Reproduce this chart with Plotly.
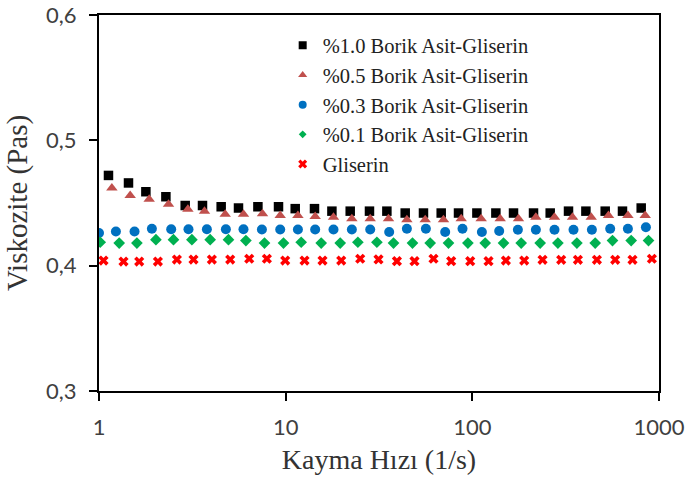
import plotly.graph_objects as go

# ---- data ----
names = ["%1.0 Borik Asit-Gliserin", "%0.5 Borik Asit-Gliserin",
         "%0.3 Borik Asit-Gliserin", "%0.1 Borik Asit-Gliserin", "Gliserin"]

x_b10 = [1.124, 1.439, 1.783, 2.282, 2.896, 3.585, 4.513, 5.589, 7.101, 9.155,
         11.25, 14.27, 17.69, 22.17, 28.12, 34.85, 43.69, 54.74, 68.11, 84.32,
         105.8, 133.7, 166.2, 212.7, 261.3, 327.5, 405.9, 515.0, 637.4, 802.9]
y_b10 = [0.472, 0.466, 0.459, 0.455, 0.448, 0.448, 0.447, 0.446, 0.447, 0.447,
         0.4455, 0.4455, 0.4435, 0.4435, 0.4435, 0.4435, 0.442, 0.442, 0.442, 0.442,
         0.442, 0.442, 0.442, 0.442, 0.442, 0.4435, 0.4435, 0.4435, 0.4435, 0.446]

x_b05 = [1.172, 1.469, 1.857, 2.357, 2.994, 3.674, 4.744, 5.944, 7.514, 9.348,
         11.63, 14.39, 18.04, 22.63, 28.37, 35.55, 44.61, 55.91, 70.06, 87.17,
         111.5, 141.0, 176.7, 219.0, 275.5, 344.1, 433.3, 536.3, 681.4, 843.6]
y_b05 = [0.462, 0.456, 0.453, 0.449, 0.445, 0.4435, 0.441, 0.441, 0.4414, 0.440,
         0.440, 0.4393, 0.4387, 0.4375, 0.4375, 0.4375, 0.4367, 0.4367, 0.4367, 0.4374,
         0.4374, 0.4374, 0.4374, 0.4387, 0.4387, 0.4387, 0.4387, 0.440, 0.440, 0.440]

x_b03 = [1.0, 1.232, 1.550, 1.920, 2.437, 3.016, 3.784, 4.784, 5.944, 7.459,
         9.348, 11.63, 14.39, 18.04, 22.63, 28.37, 35.86, 44.61, 56.39, 71.54,
         88.59, 112.5, 139.3, 175.4, 219.0, 275.5, 348.3, 437.0, 547.7, 681.4, 850.9]
y_b03 = [0.426, 0.4273, 0.4273, 0.4295, 0.429, 0.429, 0.429, 0.429, 0.429, 0.4288,
         0.4288, 0.4288, 0.4288, 0.4288, 0.4288, 0.4288, 0.4268, 0.4295, 0.4295, 0.4268,
         0.4295, 0.4268, 0.4276, 0.4287, 0.4287, 0.4287, 0.4287, 0.4287, 0.4295, 0.4295, 0.4307]

x_b01 = [1.015, 1.283, 1.596, 2.018, 2.506, 3.145, 3.941, 4.939, 6.122, 7.702,
         9.736, 12.11, 15.50, 19.60, 24.37, 30.81, 37.82, 47.80, 59.46, 74.52,
         94.67, 117.2, 146.9, 182.7, 230.9, 287.3, 363.2, 455.2, 563.5, 709.6, 878.6]
y_b01 = [0.4187, 0.418, 0.418, 0.4207, 0.4207, 0.4207, 0.4207, 0.4207, 0.420, 0.418,
         0.418, 0.4187, 0.418, 0.418, 0.4187, 0.4187, 0.418, 0.418, 0.418, 0.418,
         0.418, 0.418, 0.418, 0.418, 0.418, 0.418, 0.418, 0.418, 0.420, 0.420, 0.420]

x_gl = [1.057, 1.353, 1.642, 2.068, 2.614, 3.208, 4.025, 5.045, 6.378, 7.932,
        9.942, 12.62, 15.75, 19.84, 25.07, 31.43, 39.44, 48.99, 61.93, 77.02,
        97.41, 122.1, 151.3, 189.6, 237.7, 299.2, 367.8, 464.9, 582.5, 721.1, 916.0]
y_gl = [0.4041, 0.4033, 0.4033, 0.4033, 0.4049, 0.4049, 0.4049, 0.4049, 0.4055, 0.4055,
        0.4041, 0.4041, 0.4041, 0.4041, 0.4055, 0.405, 0.4036, 0.4036, 0.4055, 0.4036,
        0.4036, 0.4036, 0.4041, 0.4041, 0.4047, 0.4047, 0.4047, 0.4047, 0.4047, 0.4047, 0.4055]

x_ticks = [1, 10, 100, 1000]
x_tick_labels = ["1", "10", "100", "1000"]
y_ticks = [0.3, 0.4, 0.5, 0.6]

xs = [x_b10, x_b05, x_b03, x_b01, x_gl]
ys = [y_b10, y_b05, y_b03, y_b01, y_gl]

styles = [
    dict(symbol="square", color="#000000", size=9.5, lsize=8),
    dict(symbol="triangle-up", color="#C0504D", size=10, lsize=8),
    dict(symbol="circle", color="#0070C0", size=10, lsize=8),
    dict(symbol="diamond", color="#00B050", size=9, lsize=6),
    dict(symbol="x", color="#FF0000", size=9, lsize=8),
]

fig = go.Figure()
for name, x, y, st in zip(names, xs, ys, styles):
    fig.add_trace(go.Scatter(
        x=x, y=y, mode="markers", name=name, showlegend=False,
        marker=dict(symbol=st["symbol"], color=st["color"], size=st["size"],
                    line=dict(width=0)),
    ))
for name, st in zip(names, styles):
    fig.add_trace(go.Scatter(
        x=[None], y=[None], mode="markers", name=name, showlegend=True,
        marker=dict(symbol=st["symbol"], color=st["color"], size=st["lsize"],
                    line=dict(width=0)),
    ))

fig.update_layout(
    width=686, height=484,
    margin=dict(l=99, r=27, t=15, b=93, autoexpand=False),
    paper_bgcolor="white", plot_bgcolor="white",
    separators=", ",
    showlegend=True,
    legend=dict(
        x=0.328, y=0.972, xanchor="left", yanchor="top",
        font=dict(family="Liberation Serif", size=20.5, color="#222222"),
        bgcolor="rgba(0,0,0,0)", tracegroupgap=0, itemwidth=30,
    ),
    xaxis=dict(
        type="log", range=[0, 3], automargin=False,
        tickmode="array", tickvals=x_ticks, ticktext=x_tick_labels,
        ticks="outside", ticklen=8, tickwidth=1.5, tickcolor="black",
        showline=True, linecolor="black", linewidth=2, mirror=True,
        showgrid=False, zeroline=False, ticklabeloverflow="allow",
        ticklabelstandoff=8,
        tickfont=dict(family="Lato", size=22, color="#404040"),
        title=dict(text="Kayma Hızı (1/s)", standoff=10,
                   font=dict(family="Liberation Serif", size=28, color="#333333")),
    ),
    yaxis=dict(
        range=[0.3, 0.6], tickmode="array", tickvals=y_ticks, tickformat=".1f",
        automargin=False,
        ticks="outside", ticklen=8, tickwidth=1.5, tickcolor="black",
        showline=True, linecolor="black", linewidth=2, mirror=True,
        showgrid=False, zeroline=False,
        tickfont=dict(family="Lato", size=22, color="#404040"),
        ticklabelstandoff=8,
        title=dict(text="Viskozite (Pas)", standoff=10,
                   font=dict(family="Liberation Serif", size=29, color="#333333")),
    ),
)

fig.write_html("out.html", config={"displayModeBar": False},
               post_script="document.body.style.margin='0';document.body.style.padding='0';")
